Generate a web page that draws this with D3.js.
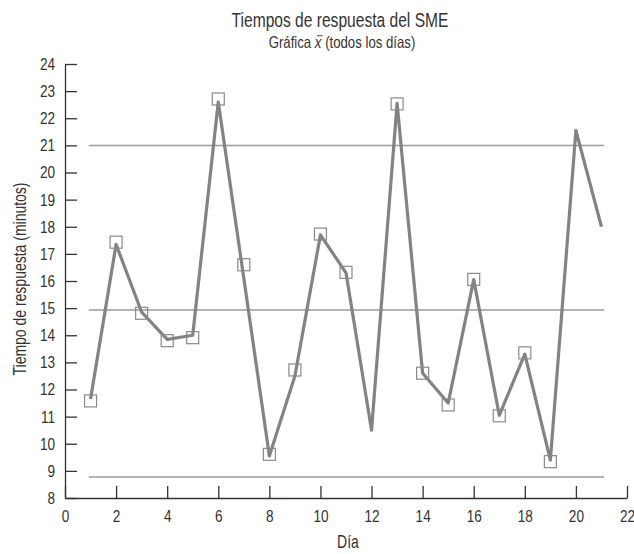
<!DOCTYPE html>
<html>
<head>
<meta charset="utf-8">
<script src="https://cdnjs.cloudflare.com/ajax/libs/d3/7.8.5/d3.min.js"></script>
<style>
  body { margin: 0; background: #fff; }
  svg text { font-family: "Liberation Sans", Arial, sans-serif; fill: #333; }
</style>
</head>
<body>
<div id="graph"></div>
<script>
// dias y tiempos medios (linea) y observaciones marcadas (cuadros)
var days = d3.range(1, 22)
var lineVals = [11.65, 17.35, 14.85, 13.85, 14.0, 22.6, 16.1, 9.55, 12.5, 17.7, 16.3,
  10.5, 22.55, 12.6, 11.5, 16.05, 11.05, 13.3, 9.4, 21.55, 18.0]
var squareVals = [11.58, 17.43, 14.81, 13.8, 13.91, 22.71, 16.6, 9.61, 12.72, 17.73, 16.32,
  null, 22.53, 12.6, 11.43, 16.06, 11.03, 13.35, 9.34, null, null]

var limits = [21.0, 14.93, 8.77]   // LSC, LC, LIC
var xTicks = d3.range(0, 23, 2)
var yTicks = d3.range(8, 25, 1)

var width = 634, height = 554
var margin = {top: 64, left: 65, right: 7, bottom: 56}
var squeeze = 0.8   // letra estrecha

var svg = d3.select('#graph').append('svg')
  .attr('width', width)
  .attr('height', height)

var x = d3.scaleLinear().domain([0, 22]).range([margin.left, width - margin.right])
var y = d3.scaleLinear().domain([8, 24]).range([height - margin.bottom, margin.top])

// ejes
var xAxis = d3.axisBottom(x)
  .tickValues(xTicks)
  .tickSizeInner(-12)
  .tickSizeOuter(0)
  .tickPadding(12)

var yAxis = d3.axisLeft(y)
  .tickValues(yTicks)
  .tickSizeInner(-12)
  .tickSizeOuter(0)
  .tickPadding(10)

var gx = svg.append('g')
  .attr('transform', 'translate(0,' + y(8) + ')')
  .call(xAxis)

var gy = svg.append('g')
  .attr('transform', 'translate(' + x(0) + ',0)')
  .call(yAxis)

;[gx, gy].forEach(g => {
  g.selectAll('path, line').attr('stroke', '#333').attr('stroke-width', 1.3)
  g.selectAll('text')
    .style('font-size', '17px')
    .attr('fill', '#333')
    .attr('x', function() { return +d3.select(this).attr('x') / squeeze })
    .attr('transform', 'scale(' + squeeze + ',1)')
})

// lineas de control
svg.append('g').selectAll('line')
  .data(limits)
  .join('line')
  .attr('x1', x(0.93))
  .attr('x2', x(21.1))
  .attr('y1', d => y(d))
  .attr('y2', d => y(d))
  .attr('stroke', '#9a9a9a')
  .attr('stroke-width', 1.5)

// serie
var line = d3.line()
  .x((d, i) => x(days[i]))
  .y(d => y(d))

svg.append('path')
  .datum(lineVals)
  .attr('d', line)
  .attr('fill', 'none')
  .attr('stroke', '#838386')
  .attr('stroke-width', 3.2)
  .attr('stroke-linejoin', 'round')

var sq = 12
svg.append('g').selectAll('rect')
  .data(squareVals.map((v, i) => ({day: days[i], v})).filter(d => d.v != null))
  .join('rect')
  .attr('x', d => x(d.day) - sq / 2)
  .attr('y', d => y(d.v) - sq / 2)
  .attr('width', sq)
  .attr('height', sq)
  .attr('fill', 'none')
  .attr('stroke', '#8a8a8a')
  .attr('stroke-width', 1.2)

// titulos
function label(px, py, size, rot) {
  return svg.append('text')
    .attr('transform', 'translate(' + px + ',' + py + ')' + (rot ? ' rotate(' + rot + ')' : '') + ' scale(' + squeeze + ',1)')
    .attr('text-anchor', 'middle')
    .style('font-size', size + 'px')
}

var cx = (x(0) + x(22)) / 2
label(cx - 6, 27, 19.5).text('Tiempos de respuesta del SME')

var subPre = 'Gráfica '
var sub = label(cx - 4, 47.5, 16.5)
sub.append('tspan').text(subPre)
sub.append('tspan').style('font-style', 'italic').text('x')
sub.append('tspan').text(' (todos los días)')

// barra sobre la x (media)
var ext = sub.node().getExtentOfChar(subPre.length)
d3.select(sub.node().parentNode).append('line')
  .attr('transform', sub.attr('transform'))
  .attr('x1', ext.x + 2.5)
  .attr('x2', ext.x + ext.width + 1.5)
  .attr('y1', ext.y + ext.height * 0.2)
  .attr('y2', ext.y + ext.height * 0.2)
  .attr('stroke', '#333')
  .attr('stroke-width', 1)

label(cx + 2, 548, 17.5).text('Día')

label(26, (y(8) + y(24)) / 2 - 2, 17.5, -90).text('Tiempo de respuesta (minutos)')
</script>
</body>
</html>
